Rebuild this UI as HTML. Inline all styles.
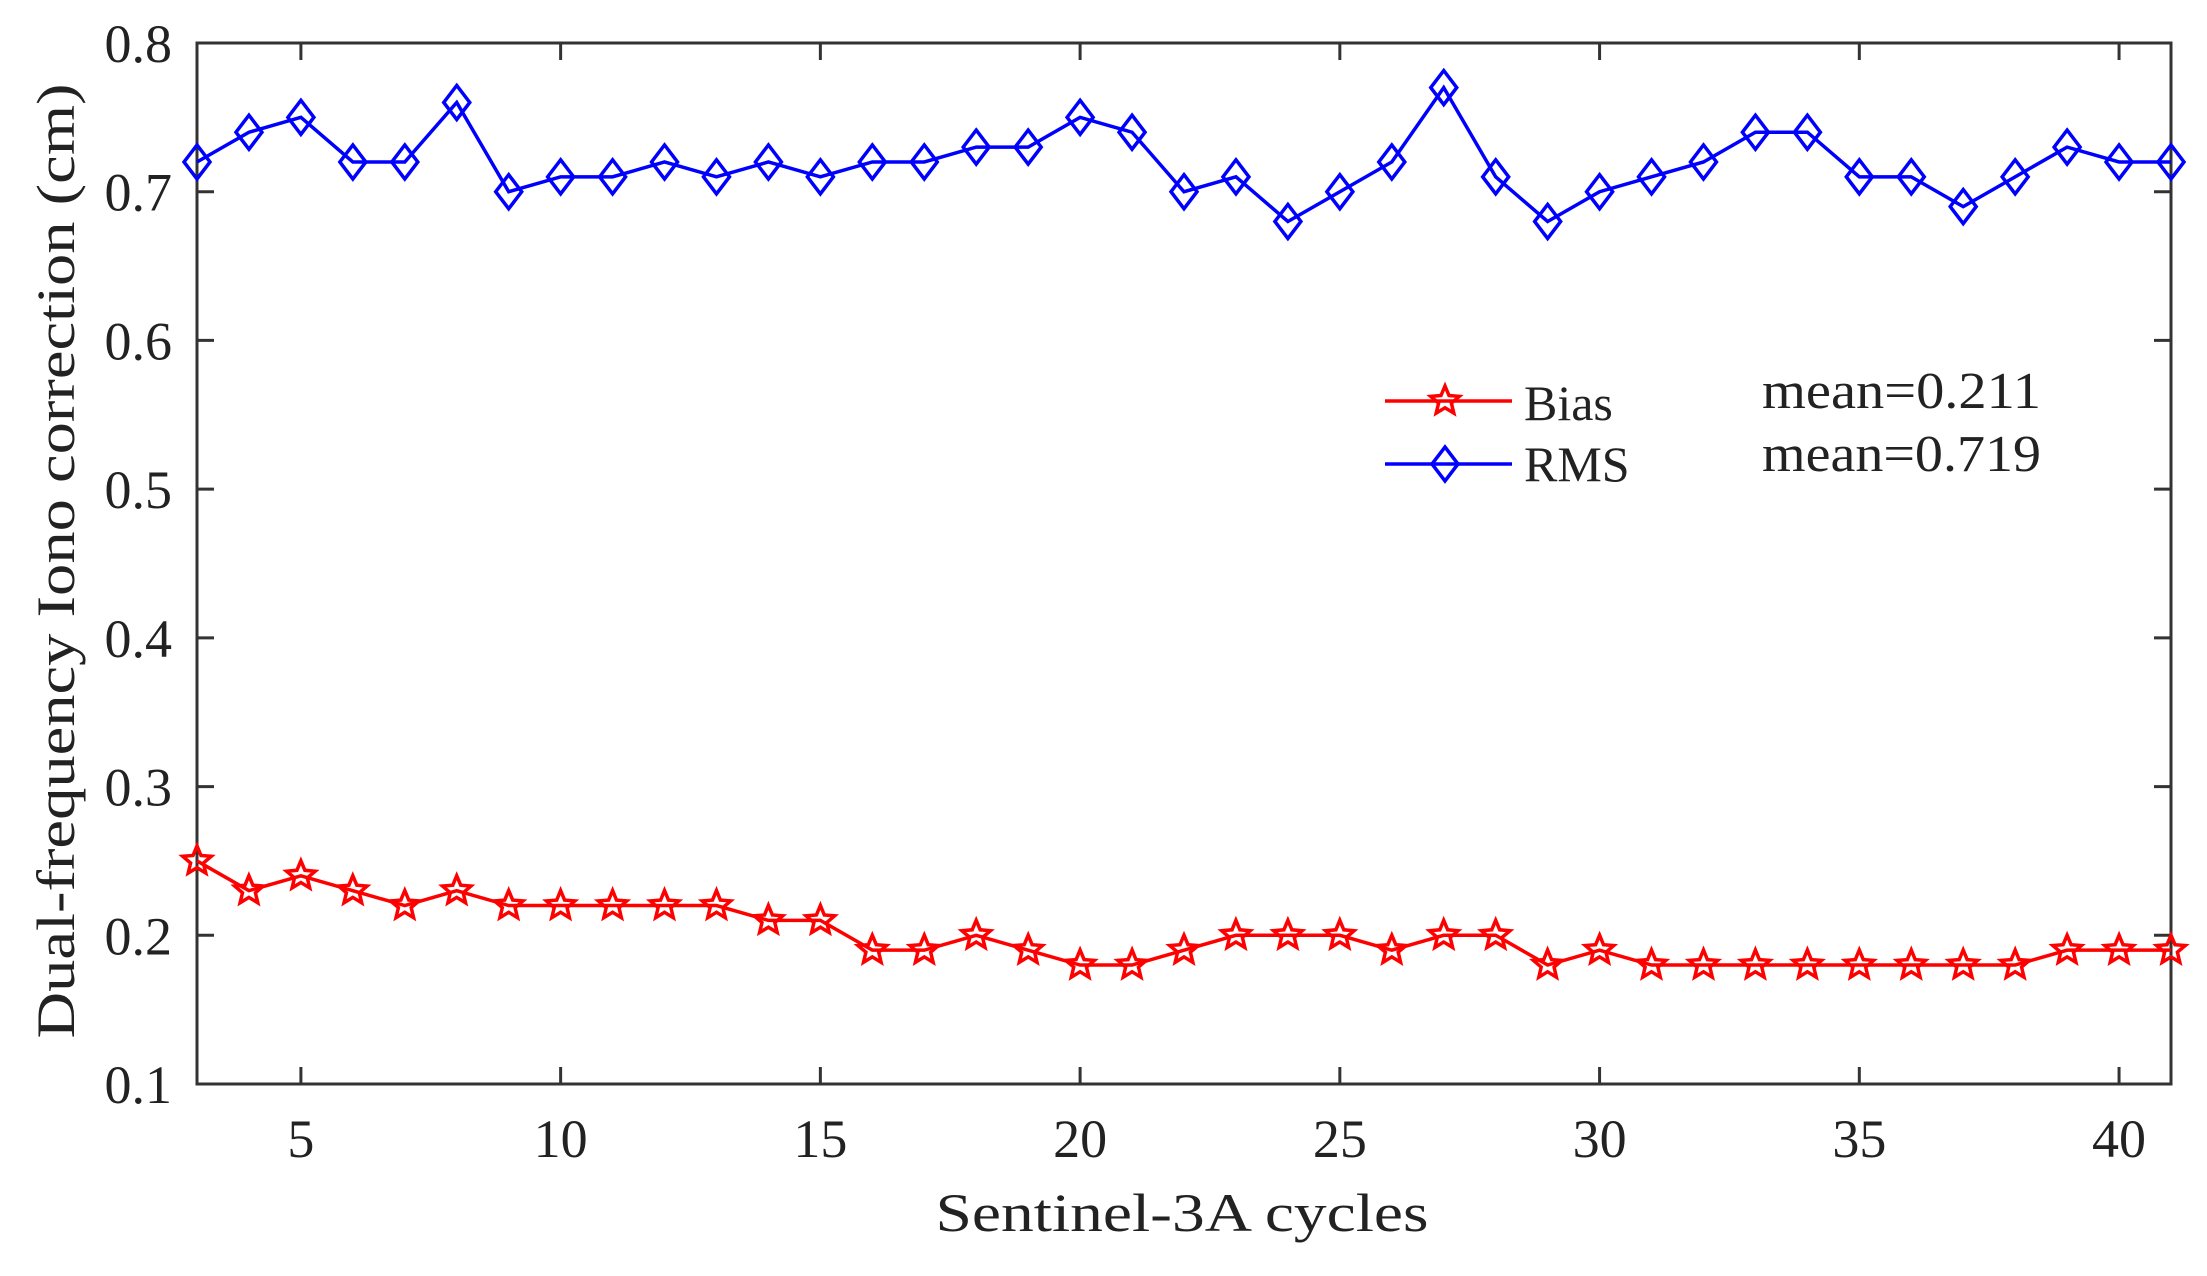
<!DOCTYPE html>
<html><head><meta charset="utf-8"><style>
html,body{margin:0;padding:0;background:#fff;}
svg{display:block;}
text{font-family:"Liberation Serif",serif;fill:#222;}
</style></head><body>
<svg id="s" width="2207" height="1276" xmlns="http://www.w3.org/2000/svg"></svg>
<script>
const X0=197,X1=2171,Y0=43,Y1=1084;
const xs=c=>X0+(c-3)*(X1-X0)/38;
const ys=v=>Y1-(v-0.1)*(Y1-Y0)/0.7;
const rms=[.72,.74,.75,.72,.72,.76,.70,.71,.71,.72,.71,.72,.71,.72,.72,.73,.73,.75,.74,.70,.71,.68,.70,.72,.77,.71,.68,.70,.71,.72,.74,.74,.71,.71,.69,.71,.73,.72,.72];
const bias=[.25,.23,.24,.23,.22,.23,.22,.22,.22,.22,.22,.21,.21,.19,.19,.20,.19,.18,.18,.19,.20,.20,.20,.19,.20,.20,.18,.19,.18,.18,.18,.18,.18,.18,.18,.18,.19,.19,.19];
let h='';
h+=`<rect x="${X0}" y="${Y0}" width="${X1-X0}" height="${Y1-Y0}" fill="none" stroke="#333" stroke-width="3"/>`;
for(let i=1;i<=8;i++){const v=i/10,y=ys(v);
 if(i>1&&i<8){h+=`<line x1="${X0}" x2="${X0+17}" y1="${y}" y2="${y}" stroke="#333" stroke-width="3"/><line x1="${X1-17}" x2="${X1}" y1="${y}" y2="${y}" stroke="#333" stroke-width="3"/>`;}
 h+=`<text x="172" y="${y+19}" font-size="54" text-anchor="end">${v.toFixed(1)}</text>`;}
for(let c=5;c<=40;c+=5){const x=xs(c);
 h+=`<line x1="${x}" x2="${x}" y1="${Y1}" y2="${Y1-17}" stroke="#333" stroke-width="3"/><line x1="${x}" x2="${x}" y1="${Y0}" y2="${Y0+17}" stroke="#333" stroke-width="3"/>`;
 h+=`<text x="${x}" y="1157" font-size="54" text-anchor="middle">${c}</text>`;}
function star(cx,cy,r){let p=[];for(let k=0;k<10;k++){const a=-Math.PI/2+k*Math.PI/5,rr=k%2?r*0.45:r;p.push((cx+rr*Math.cos(a)).toFixed(1)+','+(cy+rr*Math.sin(a)).toFixed(1));}
 return `<polygon points="${p.join(' ')}" fill="none" stroke="#f00" stroke-width="3.5"/>`;}
function dia(cx,cy){return `<polygon points="${cx},${cy-17} ${cx+13},${cy} ${cx},${cy+17} ${cx-13},${cy}" fill="none" stroke="#00f" stroke-width="3.5"/>`;}
let pr=rms.map((v,i)=>xs(i+3)+','+ys(v)).join(' ');
let pb=bias.map((v,i)=>xs(i+3)+','+ys(v)).join(' ');
h+=`<polyline points="${pr}" fill="none" stroke="#00f" stroke-width="3.5"/>`;
h+=`<polyline points="${pb}" fill="none" stroke="#f00" stroke-width="3.5"/>`;
rms.forEach((v,i)=>h+=dia(xs(i+3),ys(v)));
bias.forEach((v,i)=>h+=star(xs(i+3),ys(v),15));
h+=`<line x1="1385" x2="1512" y1="401" y2="401" stroke="#f00" stroke-width="3.5"/>`+star(1445,401,15);
h+=`<line x1="1385" x2="1512" y1="464" y2="464" stroke="#00f" stroke-width="3.5"/>`+dia(1445,464);
h+=`<text x="1524" y="420" font-size="50">Bias</text><text x="1524" y="481" font-size="50">RMS</text>`;
h+=`<text x="1762" y="408" font-size="52" textLength="279" lengthAdjust="spacingAndGlyphs">mean=0.211</text>`;
h+=`<text x="1762" y="471" font-size="52" textLength="279" lengthAdjust="spacingAndGlyphs">mean=0.719</text>`;
h+=`<text x="1182" y="1231" font-size="54" text-anchor="middle" textLength="493" lengthAdjust="spacingAndGlyphs">Sentinel-3A cycles</text>`;
h+=`<text transform="translate(74,561) rotate(-90)" font-size="54" text-anchor="middle" textLength="955" lengthAdjust="spacingAndGlyphs">Dual-frequency Iono correction (cm)</text>`;
document.getElementById('s').innerHTML=h;
</script>
</body></html>
